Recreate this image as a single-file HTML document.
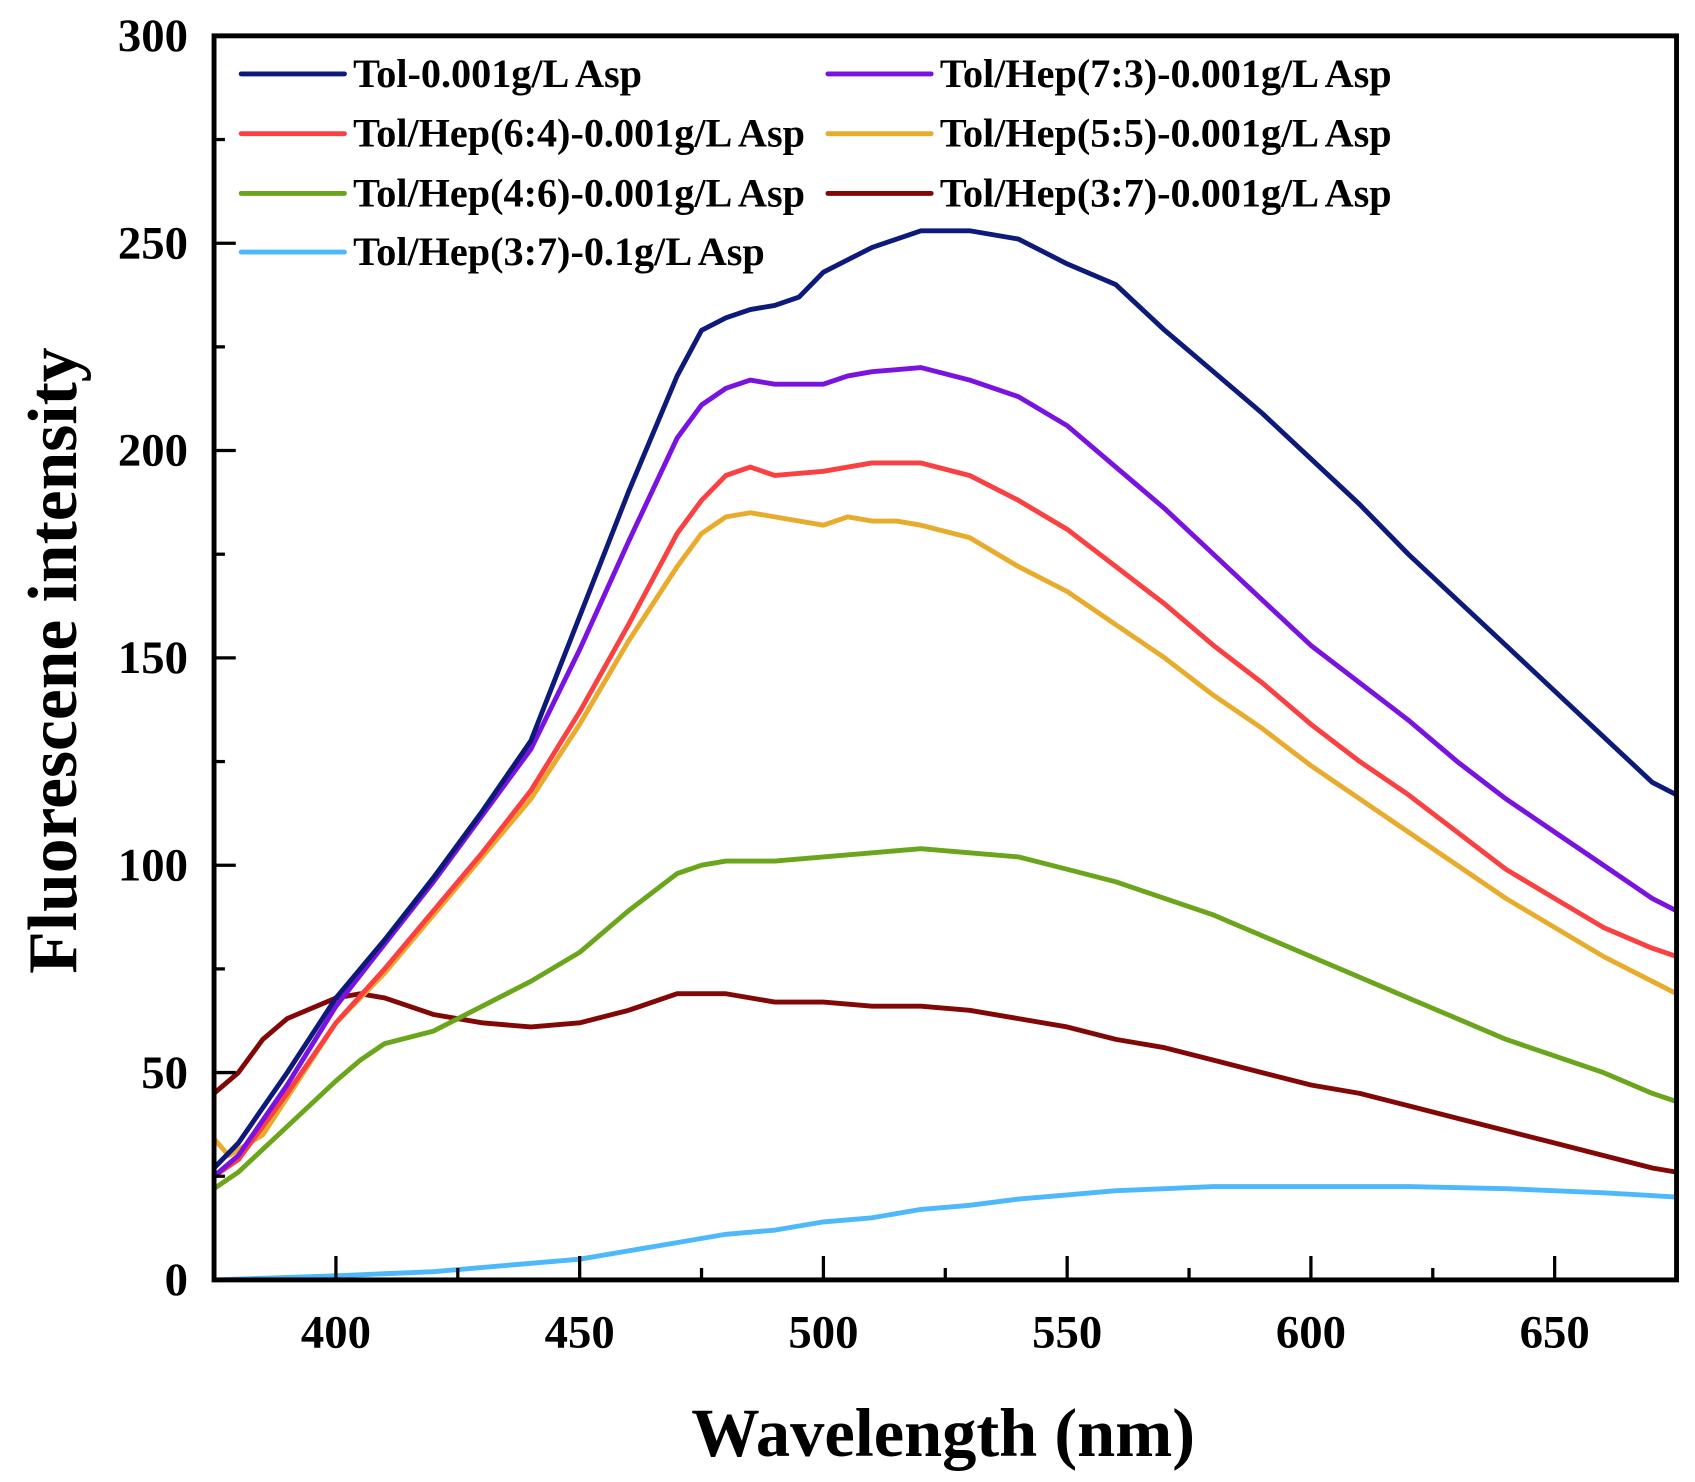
<!DOCTYPE html>
<html><head><meta charset="utf-8"><style>
html,body{margin:0;padding:0;background:#fff;}
svg{display:block;}
text{font-family:"Liberation Serif",serif;font-weight:bold;fill:#000;}
</style></head><body>
<svg id="chart" width="1695" height="1482" viewBox="0 0 1560 1364" preserveAspectRatio="none" xmlns="http://www.w3.org/2000/svg">
<g id="marks"></g>
<g id="axes"></g>
<g id="legend"></g>
<text x="868" y="1340" font-size="63" text-anchor="middle">Wavelength (nm)</text>
<text transform="translate(70,608) rotate(-90)" font-size="64" text-anchor="middle">Fluorescene intensity</text>
</svg>
<script>
const xTicks = [400, 450, 500, 550, 600, 650];
const yTicks = [0, 50, 100, 150, 200, 250, 300];
const seriesNames = ["Tol-0.001g/L Asp","Tol/Hep(7:3)-0.001g/L Asp","Tol/Hep(6:4)-0.001g/L Asp","Tol/Hep(5:5)-0.001g/L Asp","Tol/Hep(4:6)-0.001g/L Asp","Tol/Hep(3:7)-0.001g/L Asp","Tol/Hep(3:7)-0.1g/L Asp"];
const seriesColors = ["#0d1a7a","#7a12e0","#fa4040","#e8ab2c","#6aa51c","#820808","#4db8fa"];
const wlTol = [375,380,390,400,410,420,430,440,450,460,470,475,480,485,490,495,500,510,520,530,540,550,560,570,580,590,600,610,620,630,640,650,660,670,675];
const valTol = [27,33,50,68,82,97,113,130,160,190,218,229,232,234,235,237,243,249,253,253,251,245,240,229,219,209,198,187,175,164,153,142,131,120,117];
const wl73 = [375,380,390,400,410,420,430,440,450,460,470,475,480,485,490,500,505,510,520,530,540,550,560,570,580,590,600,610,620,630,640,650,660,670,675];
const val73 = [25,30,47,66,81,96,112,128,152,178,203,211,215,217,216,216,218,219,220,217,213,206,196,186,175,164,153,144,135,125,116,108,100,92,89];
const wl64 = [375,380,390,400,410,420,430,440,450,460,470,475,480,485,490,500,505,510,520,530,540,550,560,570,580,590,600,610,620,630,640,650,660,670,675];
const val64 = [25,29,45,62,75,89,103,118,137,158,180,188,194,196,194,195,196,197,197,194,188,181,172,163,153,144,134,125,117,108,99,92,85,80,78];
const wl55 = [375,378,385,390,400,410,420,430,440,450,460,470,475,480,485,490,500,505,510,515,520,530,540,550,560,570,580,590,600,610,620,630,640,650,660,670,675];
const val55 = [34,30,35,44,62,74,88,102,116,134,154,172,180,184,185,184,182,184,183,183,182,179,172,166,158,150,141,133,124,116,108,100,92,85,78,72,69];
const wl46 = [375,380,390,400,405,410,420,430,440,450,460,470,475,480,490,500,510,520,530,540,550,560,570,580,590,600,610,620,630,640,650,660,670,675];
const val46 = [22,26,37,48,53,57,60,66,72,79,89,98,100,101,101,102,103,104,103,102,99,96,92,88,83,78,73,68,63,58,54,50,45,43];
const wl37 = [375,380,385,390,400,405,410,420,430,440,450,460,470,475,480,490,500,510,520,530,540,550,560,570,580,590,600,610,620,630,640,650,660,670,675];
const val37 = [45,50,58,63,68,69,68,64,62,61,62,65,69,69,69,67,67,66,66,65,63,61,58,56,53,50,47,45,42,39,36,33,30,27,26];
const wl37b = [375,400,420,440,450,460,470,480,490,500,510,520,530,540,550,560,570,580,600,620,640,660,675];
const val37b = [0,1,2,4,5,7,9,11,12,14,15,17,18,19.5,20.5,21.5,22,22.5,22.5,22.5,22,21,20];

const L=197,R=1543,T=33,B=1178,XMIN=375,XMAX=675,YMIN=0,YMAX=300;
function xs(v){return L+(v-XMIN)/(XMAX-XMIN)*(R-L);}
function ys(v){return B-(v-YMIN)/(YMAX-YMIN)*(B-T);}
const NS="http://www.w3.org/2000/svg";
function mk(tag,attrs,parent){const e=document.createElementNS(NS,tag);for(const k in attrs)e.setAttribute(k,attrs[k]);parent.appendChild(e);return e;}
const marks=document.getElementById('marks'),axes=document.getElementById('axes'),legend=document.getElementById('legend');
const allX=[wlTol,wl73,wl64,wl55,wl46,wl37,wl37b];
const allY=[valTol,val73,val64,val55,val46,val37,val37b];
const keys=["tol","7-3","6-4","5-5","4-6","3-7","3-7-0.1"];
for(let s=allX.length-1;s>=0;s--){
  let d='';
  for(let i=0;i<allX[s].length;i++)d+=(i?'L':'M')+xs(allX[s][i]).toFixed(1)+','+ys(allY[s][i]).toFixed(1);
  const p=mk('path',{d:d,fill:'none',stroke:seriesColors[s],'stroke-width':4.5,'stroke-linejoin':'round'},marks);
  
  
}
const fr=mk('rect',{x:L,y:T,width:R-L,height:B-T,fill:'none',stroke:'#000','stroke-width':4.5},axes);


for(let v=375;v<=675;v+=25){
  if(v===375||v===675)continue;
  const major=v%50===0;
  const t=mk('line',{x1:xs(v),x2:xs(v),y1:B,y2:B-(major?22:11),stroke:'#000','stroke-width':3},axes);
  
  
}
xTicks.forEach(v=>{
  const t=mk('text',{x:xs(v),y:B+62,'font-size':43,'text-anchor':'middle'},axes);
  t.textContent=v;
  
  
});
for(let v=25;v<300;v+=25){
  const major=v%50===0;
  const t=mk('line',{x1:L,x2:L+(major?20:10),y1:ys(v),y2:ys(v),stroke:'#000','stroke-width':3},axes);
  
  
}
yTicks.forEach(v=>{
  const t=mk('text',{x:173,y:ys(v)+14,'font-size':43,'text-anchor':'end'},axes);
  t.textContent=v;
  
  
});
const lx=[222,762],ly=[68,123,178,232];
seriesNames.forEach((n,i)=>{
  const col=i%2,row=Math.floor(i/2);
  const g=mk('g',{},legend);
  
  
  mk('line',{x1:lx[col],x2:lx[col]+95,y1:ly[row],y2:ly[row],stroke:seriesColors[i],'stroke-width':4.5,'stroke-linecap':'round'},g);
  const t=mk('text',{x:lx[col]+103,y:ly[row]+12,'font-size':37},g);
  t.textContent=n;
});
</script>
</body></html>
